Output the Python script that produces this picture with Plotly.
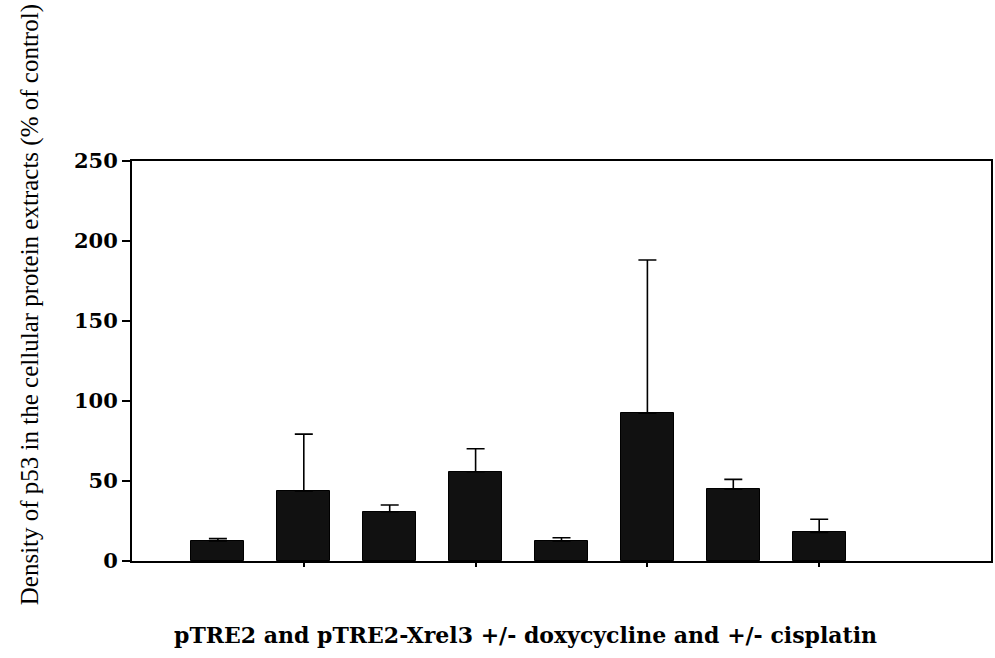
import plotly.graph_objects as go

positions = [1, 2, 3, 4, 5, 6, 7, 8]
values = [12.5, 43.8, 30.8, 55.8, 12.5, 92.3, 44.8, 17.9]
errors = [1.5, 35.5, 4.2, 14.4, 2.0, 95.8, 6.2, 8.2]
y_ticks = [0, 50, 100, 150, 200, 250]
x_ticks = [2, 4, 6, 8]

SERIF = "Liberation Serif"
WIDE = "DejaVu Serif"

fig = go.Figure()
fig.add_trace(go.Bar(
    x=positions, y=values, width=0.615,
    marker=dict(color="#111111", line=dict(color="#000000", width=1)),
    error_y=dict(type="data", array=errors, symmetric=False, arrayminus=[0]*len(errors),
                 color="#000000", thickness=1.6, width=9, visible=True),
    showlegend=False,
))

fig.update_layout(
    width=995, height=658,
    margin=dict(l=132, r=2, t=161, b=97),
    paper_bgcolor="white", plot_bgcolor="white",
    font=dict(family=SERIF, color="black"),
    bargap=0,
)
fig.update_xaxes(
    range=[0, 10], tickvals=x_ticks, ticktext=["", "", "", ""],
    ticks="outside", ticklen=4, tickwidth=1.5, tickcolor="black",
    showline=True, linecolor="black", linewidth=2, mirror=True,
    showgrid=False, zeroline=False,
)
fig.update_yaxes(
    range=[0, 250], tickvals=y_ticks,
    ticks="outside", ticklen=8, tickwidth=1.5, tickcolor="black",
    tickfont=dict(family=WIDE, size=21, color="black", weight="bold"),
    showline=True, linecolor="black", linewidth=2, mirror=True,
    showgrid=False, zeroline=False,
)

fig.add_annotation(
    text="Density of p53 in the cellular protein extracts (% of control)",
    xref="paper", yref="paper", x=-132/861 + 30/861, y=(561-305)/400,
    xanchor="center", yanchor="middle", textangle=-90, showarrow=False,
    font=dict(family=SERIF, size=25, color="black"),
)
fig.add_annotation(
    text="<b>pTRE2 and pTRE2-Xrel3 +/- doxycycline and +/- cisplatin</b>",
    xref="paper", yref="paper", x=(526-132)/861, y=(561-635)/400,
    xanchor="center", yanchor="middle", showarrow=False,
    font=dict(family=WIDE, size=22, color="black"),
)

fig.write_html("out.html")
